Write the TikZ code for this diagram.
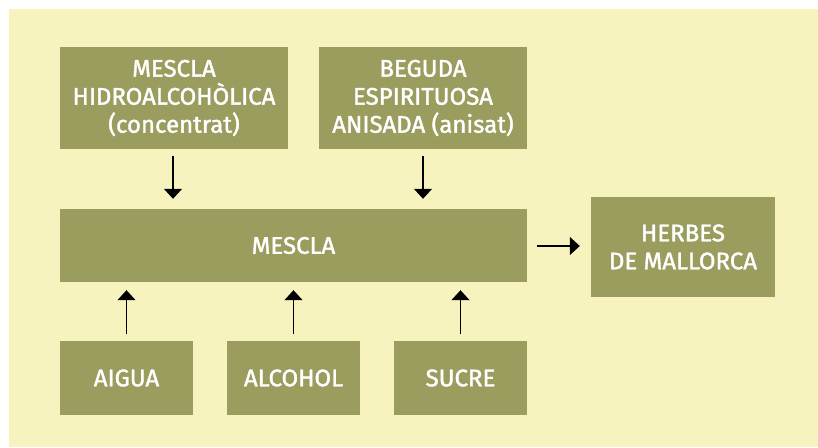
\documentclass[tikz,border=0pt]{standalone}
\usepackage{fontspec}
\setmainfont{Fira Sans}
\newfontfamily\boxfont[FakeBold=1.6]{Fira Sans}
\usetikzlibrary{arrows.meta}
\definecolor{bgyellow}{HTML}{F7F3BE}
\definecolor{boxgreen}{HTML}{9A9D5E}
\begin{document}
\begin{tikzpicture}[x=1pt,y=-1pt,
  stepbox/.style={fill=boxgreen,draw=none,text=white,align=center,inner sep=0pt,
    font=\boxfont\fontsize{24}{28}\selectfont},
  arr/.style={draw=black,line width=1.3pt,-{Triangle[width=18pt,length=10pt]}}]
\useasboundingbox (0,0) rectangle (818,447);
\fill[bgyellow] (9,9) rectangle (818,447);
\node[stepbox,minimum width=228pt,minimum height=102pt] (b1) at (174,98) {MESCLA\\HIDROALCOHÒLICA\\(concentrat)};
\node[stepbox,minimum width=208pt,minimum height=102pt] (b2) at (423,98) {BEGUDA\\ESPIRITUOSA\\ANISADA (anisat)};
\node[stepbox,minimum width=467pt,minimum height=73pt] (m) at (293.5,245.5) {MESCLA};
\node[stepbox,minimum width=184pt,minimum height=100pt] (h) at (683,247) {HERBES\\DE MALLORCA};
\node[stepbox,minimum width=133pt,minimum height=74pt] (a) at (126.5,378) {AIGUA};
\node[stepbox,minimum width=133pt,minimum height=74pt] (al) at (293.5,378) {ALCOHOL};
\node[stepbox,minimum width=133pt,minimum height=74pt] (s) at (460.5,378) {SUCRE};
\draw[arr,shorten <=7pt,shorten >=10pt] ([xshift=-1pt]b1.south) -- ([xshift=-1pt]b1.south |- m.north);
\draw[arr,shorten <=7pt,shorten >=10pt] (b2.south) -- (b2.south |- m.north);
\draw[arr,shorten <=7pt,shorten >=8pt] (a.north) -- (a.north |- m.south);
\draw[arr,shorten <=7pt,shorten >=8pt] (al.north) -- (al.north |- m.south);
\draw[arr,shorten <=7pt,shorten >=8pt] (s.north) -- (s.north |- m.south);
\draw[arr,shorten <=10pt,shorten >=11pt] (m.east |- 0,246) -- (h.west |- 0,246);
\end{tikzpicture}
\end{document}
